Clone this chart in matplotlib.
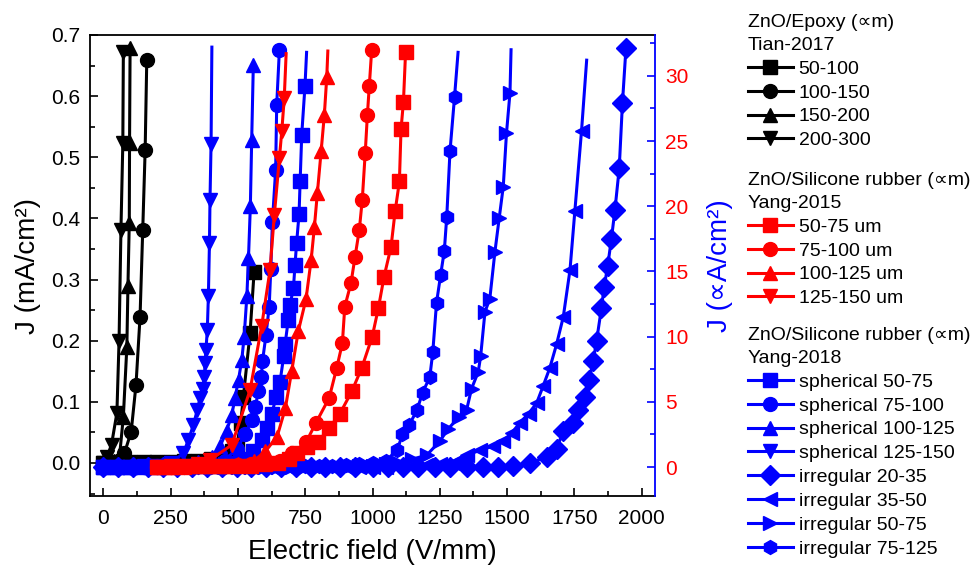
import matplotlib
matplotlib.use('Agg')
import matplotlib.pyplot as plt
from matplotlib.lines import Line2D
from matplotlib.ticker import MultipleLocator, FormatStrFormatter

plt.rcParams['font.family'] = ['Liberation Sans', 'DejaVu Sans']

# ---------------- data: Tian-2017 (left axis, mA/cm2) ----------------
t50_x = [0, 50, 100, 150, 200, 250, 300, 350, 400, 450, 477, 495, 510, 520, 545, 560]
t50_y = [0.0, 0.0, 0.001, 0.001, 0.002, 0.002, 0.003, 0.004, 0.006, 0.012, 0.02, 0.027, 0.065, 0.108, 0.213, 0.313]
t100_x = [0, 20, 40, 60, 78, 103, 121, 136, 146, 155, 161]
t100_y = [0.0, 0.001, 0.002, 0.005, 0.016, 0.051, 0.128, 0.239, 0.381, 0.512, 0.659]
t150_x = [0, 6, 20, 40, 60, 74, 87, 91, 96, 97, 99]
t150_y = [0.0, 0.001, 0.002, 0.004, 0.012, 0.076, 0.19, 0.289, 0.393, 0.523, 0.678]
t200_x = [0, 13, 30, 50, 58, 65, 72, 74]
t200_y = [0.0, 0.01, 0.03, 0.082, 0.2, 0.381, 0.523, 0.673]

# ---------------- data: Yang-2015 (right axis, uA/cm2) ----------------
y15_50_x = [200, 250, 300, 350, 400, 450, 500, 550, 600, 650, 690, 718, 755, 796, 840, 879, 923, 960, 999, 1022, 1043, 1069, 1084, 1100, 1106, 1115, 1123]
y15_50_y = [0.0, 0.0, 0.0, 0.05, 0.05, 0.1, 0.1, 0.1, 0.2, 0.3, 0.6, 1.05, 1.5, 1.9, 3.0, 4.1, 5.8, 7.6, 10.0, 12.2, 14.6, 16.9, 19.6, 21.9, 25.9, 28.0, 31.85]
y15_75_x = [200, 250, 300, 350, 400, 450, 500, 550, 600, 656, 700, 753, 790, 839, 867, 888, 897, 920, 935, 951, 962, 973, 981, 988, 997]
y15_75_y = [0.0, 0.0, 0.05, 0.05, 0.1, 0.1, 0.15, 0.2, 0.3, 0.5, 1.05, 1.9, 3.4, 5.3, 7.6, 9.5, 12.3, 14.1, 16.1, 18.2, 20.5, 24.1, 27.0, 29.2, 32.0]
y15_100_x = [200, 250, 300, 350, 400, 450, 500, 560, 601, 645, 676, 700, 724, 753, 772, 784, 795, 809, 821, 830, 834]
y15_100_y = [0.0, 0.0, 0.05, 0.05, 0.1, 0.1, 0.2, 0.5, 1.2, 2.3, 4.5, 7.4, 10.4, 12.9, 15.9, 18.4, 21.0, 24.2, 27.0, 29.9, 31.9]
y15_125_x = [200, 250, 300, 350, 396, 477, 545, 588, 619, 635, 654, 663, 672, 679]
y15_125_y = [0.0, 0.05, 0.1, 0.2, 0.54, 1.7, 5.9, 10.8, 15.1, 19.3, 23.7, 25.8, 28.3, 31.7]

# ---------------- data: Yang-2018 (right axis, uA/cm2) ----------------
s50_x = [0, 50, 100, 150, 200, 250, 300, 350, 400, 450, 500, 530, 557, 588, 607, 626, 642, 656, 670, 675, 687, 693, 706, 712, 718, 727, 731, 737, 749, 755]
s50_y = [0.0, 0.0, 0.0, 0.0, 0.0, 0.05, 0.05, 0.1, 0.1, 0.2, 0.3, 0.6, 1.2, 2.1, 3.0, 4.1, 5.4, 6.5, 8.5, 9.4, 11.3, 12.4, 13.7, 15.5, 17.2, 19.4, 21.9, 25.5, 29.2, 31.8]
s75_x = [0, 50, 100, 150, 200, 250, 300, 350, 400, 450, 496, 526, 551, 564, 576, 587, 591, 604, 616, 622, 628, 640, 644, 654]
s75_y = [0.0, 0.0, 0.0, 0.0, 0.05, 0.05, 0.1, 0.1, 0.2, 0.5, 1.4, 2.5, 3.6, 4.6, 5.8, 6.9, 8.1, 10.1, 12.3, 15.2, 18.8, 22.8, 27.8, 32.0]
s100_x = [0, 50, 100, 150, 200, 250, 300, 350, 403, 434, 458, 477, 489, 502, 514, 523, 533, 539, 546, 551, 557]
s100_y = [0.0, 0.0, 0.0, 0.05, 0.05, 0.1, 0.2, 0.4, 0.8, 1.6, 2.8, 4.0, 5.3, 6.7, 8.2, 10.0, 13.1, 16.0, 20.0, 25.1, 30.8]
s125_x = [0, 50, 100, 150, 200, 250, 297, 316, 334, 349, 359, 369, 375, 378, 381, 386, 390, 394, 396, 400, 403]
s125_y = [0.0, 0.0, 0.0, 0.05, 0.1, 0.3, 1.05, 2.1, 3.2, 4.4, 5.3, 6.0, 6.9, 8.0, 9.0, 10.5, 13.1, 17.2, 20.5, 24.8, 32.2]
i20_x = [0, 55, 110, 165, 220, 275, 330, 385, 440, 495, 550, 605, 660, 715, 770, 825, 880, 935, 1003, 1058, 1114, 1170, 1232, 1288, 1351, 1411, 1467, 1522, 1585, 1648, 1685, 1709, 1746, 1765, 1789, 1805, 1820, 1833, 1851, 1861, 1874, 1888, 1901, 1917, 1929, 1942]
i20_y = [0.0, 0.0, 0.0, 0.0, 0.0, 0.0, 0.0, 0.0, 0.0, 0.0, 0.0, 0.0, 0.0, 0.0, 0.0, 0.0, 0.0, 0.0, 0.0, 0.0, 0.0, 0.0, 0.0, 0.0, 0.0, 0.0, 0.0, 0.1, 0.3, 0.8, 1.4, 2.8, 3.4, 4.4, 5.4, 6.7, 8.1, 9.7, 12.2, 13.8, 15.4, 17.5, 19.7, 22.9, 27.9, 32.1]
i35_x = [0, 50, 100, 150, 200, 250, 300, 350, 400, 450, 500, 550, 600, 650, 700, 750, 800, 850, 900, 950, 1000, 1050, 1100, 1150, 1200, 1250, 1300, 1319, 1350, 1401, 1448, 1486, 1517, 1548, 1580, 1610, 1634, 1659, 1684, 1709, 1734, 1752, 1777, 1796]
i35_y = [0.0, 0.0, 0.0, 0.0, 0.0, 0.0, 0.0, 0.0, 0.0, 0.0, 0.0, 0.0, 0.0, 0.0, 0.0, 0.0, 0.0, 0.0, 0.0, 0.0, 0.0, 0.0, 0.05, 0.1, 0.15, 0.2, 0.3, 0.5, 0.9, 1.3, 1.6, 2.0, 2.6, 3.4, 4.1, 4.9, 6.2, 7.6, 9.4, 11.5, 15.1, 19.6, 25.8, 31.2]
i50_x = [0, 50, 100, 150, 200, 250, 300, 350, 400, 450, 500, 550, 600, 650, 700, 750, 800, 850, 900, 950, 1000, 1050, 1100, 1146, 1201, 1251, 1280, 1320, 1350, 1368, 1393, 1402, 1418, 1436, 1455, 1471, 1486, 1498, 1511, 1515]
i50_y = [0.0, 0.0, 0.0, 0.0, 0.0, 0.0, 0.0, 0.0, 0.0, 0.0, 0.0, 0.0, 0.0, 0.0, 0.0, 0.0, 0.0, 0.0, 0.05, 0.1, 0.1, 0.2, 0.3, 0.6, 0.9, 2.0, 2.9, 3.8, 4.4, 6.0, 7.3, 8.5, 11.9, 12.9, 16.5, 19.1, 21.5, 25.6, 28.7, 32.0]
i75_x = [0, 50, 100, 150, 200, 250, 300, 350, 400, 450, 500, 550, 600, 650, 700, 750, 800, 850, 900, 950, 1000, 1050, 1092, 1111, 1136, 1166, 1186, 1213, 1224, 1238, 1253, 1267, 1276, 1288, 1305, 1318]
i75_y = [0.0, 0.0, 0.0, 0.0, 0.0, 0.0, 0.0, 0.0, 0.0, 0.0, 0.0, 0.0, 0.0, 0.0, 0.05, 0.05, 0.1, 0.1, 0.15, 0.2, 0.3, 0.5, 1.3, 2.5, 3.2, 4.4, 5.7, 6.9, 8.8, 12.6, 14.7, 16.6, 19.2, 24.2, 28.4, 31.8]

tian_labels = ['50-100', '100-150', '150-200', '200-300']
y15_labels = ['50-75 um', '75-100 um', '100-125 um', '125-150 um']
y18_labels = ['spherical 50-75', 'spherical 75-100', 'spherical 100-125', 'spherical 125-150',
              'irregular 20-35', 'irregular 35-50', 'irregular 50-75', 'irregular 75-125']

# ---------------- styling ----------------
BLACK, RED, BLUE = '#000000', '#ff0000', '#0000ff'
MS, LW = 10, 2.2

tian = [(t50_x, t50_y, 's', False), (t100_x, t100_y, 'o', False),
        (t150_x, t150_y, '^', False), (t200_x, t200_y, 'v', False)]
yang15 = [(y15_50_x, y15_50_y, 's', False), (y15_75_x, y15_75_y, 'o', False),
          (y15_100_x, y15_100_y, '^', True), (y15_125_x, y15_125_y, 'v', True)]
yang18 = [(s50_x, s50_y, 's', True), (s75_x, s75_y, 'o', False),
          (s100_x, s100_y, '^', False), (s125_x, s125_y, 'v', True),
          (i20_x, i20_y, 'D', False), (i35_x, i35_y, '<', True),
          (i50_x, i50_y, '>', True), (i75_x, i75_y, 'h', True)]

fig = plt.figure(figsize=(9.8, 5.72), dpi=100)
ax = fig.add_axes([90/980, 1-496/572, 565/980, 461/572])
ax2 = ax.twinx()


def draw(axis, series, color):
    for x, y, m, tail in series:
        me = list(range(len(x) - 1)) if tail else None
        axis.plot(x, y, color=color, lw=LW, marker=m, ms=MS, mec=color, mfc=color,
                  markevery=me)


draw(ax, tian, BLACK)
draw(ax2, yang18, BLUE)
draw(ax2, yang15, RED)

ax.set_xlim(-50, 2050)
ax.set_ylim(-0.054, 0.7)
ax2.set_ylim(-2.22, 33.13)

ax.xaxis.set_major_locator(MultipleLocator(250))
ax.xaxis.set_minor_locator(MultipleLocator(125))
ax.yaxis.set_major_locator(MultipleLocator(0.1))
ax.yaxis.set_minor_locator(MultipleLocator(0.05))
ax.yaxis.set_major_formatter(FormatStrFormatter('%.1f'))
ax2.yaxis.set_major_locator(MultipleLocator(5))
ax2.yaxis.set_minor_locator(MultipleLocator(2.5))

ax.tick_params(which='both', direction='in', top=False, right=False, labelsize=15, width=1.2)
ax.tick_params(which='major', length=6)
ax.tick_params(which='minor', length=3.5)
ax.tick_params(axis='x', which='major', pad=9)
ax.tick_params(axis='y', which='major', pad=7)
ax2.tick_params(which='both', direction='in', color=BLUE, labelcolor=RED, labelsize=15, width=1.2)
ax2.tick_params(which='major', length=6, pad=7.5)
ax2.tick_params(which='minor', length=3.5)

for s in ax.spines.values():
    s.set_linewidth(1.3)
ax.spines['right'].set_visible(False)
for k in ('left', 'top', 'bottom'):
    ax2.spines[k].set_visible(False)
ax2.spines['right'].set_color(BLUE)
ax2.spines['right'].set_linewidth(1.3)

ax.set_xlabel('Electric field (V/mm)', fontsize=20, labelpad=8)
ax.set_ylabel('J (mA/cm²)', fontsize=20, labelpad=7)
ax2.set_ylabel('J (∝A/cm²)', fontsize=20, color=BLUE, labelpad=13)

legend_groups = [
    ('ZnO/Epoxy (∝m)\nTian-2017', tian, tian_labels, BLACK, 14),
    ('ZnO/Silicone rubber (∝m)\nYang-2015', yang15, y15_labels, RED, 172),
    ('ZnO/Silicone rubber (∝m)\nYang-2018', yang18, y18_labels, BLUE, 327),
]
for title, series, labels, color, ytop in legend_groups:
    handles = [Line2D([], [], color=color, lw=LW, marker=m, ms=MS, mec=color, mfc=color)
               for (_, _, m, _) in series]
    leg = fig.legend(handles, labels, title=title, loc='upper left',
                     bbox_to_anchor=(748/980, 1 - ytop/572), frameon=False,
                     fontsize=14, title_fontsize=14, alignment='left', borderpad=0,
                     borderaxespad=0, handlelength=2.3, handletextpad=0.3,
                     labelspacing=0.32)
    leg.get_title().set_linespacing(1.45)

fig.savefig('out.png', dpi=100)
